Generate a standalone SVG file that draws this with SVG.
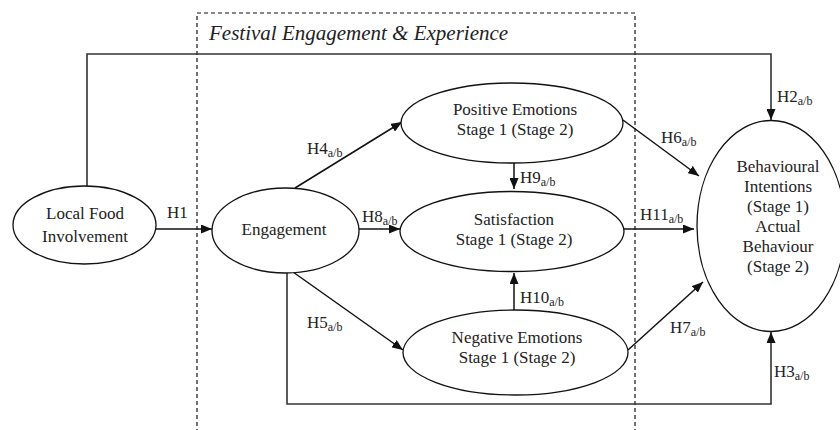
<svg xmlns="http://www.w3.org/2000/svg" width="840" height="430" viewBox="0 0 840 430">
<style>
text{font-family:'Liberation Serif','Times New Roman',Times,'DejaVu Serif',serif;fill:#222;}
.n{font-size:17px;text-anchor:middle;}
.l{font-size:17px;}
.s{font-size:12px;}
.t{font-size:21px;font-style:italic;}
ellipse{fill:#fff;stroke:#111;stroke-width:1.3;}
.c{fill:none;stroke:#111;stroke-width:1.5;}
.g{fill:none;stroke:#333;stroke-width:1.6;}
.box{fill:none;stroke:#111;stroke-width:1.2;stroke-dasharray:4 3;}
</style>
<defs>
<marker id="ah" markerWidth="11" markerHeight="9" refX="11" refY="4.5" orient="auto" markerUnits="userSpaceOnUse">
<path d="M0,0 L11,4.5 L0,9 Z" fill="#111"/>
</marker>
</defs>
<rect width="840" height="430" fill="#fff"/>
<g id="frame">
<path class="box" d="M197,440 V13 H635 V440"/>
<text class="t" x="209" y="39.5" font-family="Liberation Serif">Festival Engagement &amp; Experience</text>
</g>
<g id="connectors">
<path class="g" d="M87,186 V54 H771 V120" marker-end="url(#ah)"/>
<path class="g" d="M287,272 V404 H771 V332" marker-end="url(#ah)"/>
<path class="c" d="M156,229 H212" marker-end="url(#ah)"/>
<path class="c" d="M359,229 H400" marker-end="url(#ah)"/>
<path class="c" d="M295,188 L402,122" marker-end="url(#ah)"/>
<path class="c" d="M293,272 L403,350" marker-end="url(#ah)"/>
<path class="c" d="M623,120 L699,176" marker-end="url(#ah)"/>
<path class="c" d="M628,350 L703,282" marker-end="url(#ah)"/>
<path class="c" d="M624,229 H694" marker-end="url(#ah)"/>
<path class="c" d="M514,163 V189" marker-end="url(#ah)"/>
<path class="c" d="M514,310 V273" marker-end="url(#ah)"/>
<text class="l" x="167" y="218">H1</text>
<text class="l" x="777" y="102">H2<tspan class="s" dy="3">a/b</tspan></text>
<text class="l" x="774" y="377">H3<tspan class="s" dy="3">a/b</tspan></text>
<text class="l" x="307" y="154">H4<tspan class="s" dy="3">a/b</tspan></text>
<text class="l" x="307" y="328">H5<tspan class="s" dy="3">a/b</tspan></text>
<text class="l" x="661" y="143">H6<tspan class="s" dy="3">a/b</tspan></text>
<text class="l" x="670" y="333">H7<tspan class="s" dy="3">a/b</tspan></text>
<text class="l" x="362" y="222">H8<tspan class="s" dy="3">a/b</tspan></text>
<text class="l" x="520" y="183">H9<tspan class="s" dy="3">a/b</tspan></text>
<text class="l" x="520" y="303">H10<tspan class="s" dy="3">a/b</tspan></text>
<text class="l" x="640" y="220">H11<tspan class="s" dy="3">a/b</tspan></text>
</g>
<g id="lfi">
<ellipse cx="84.5" cy="225" rx="71.5" ry="39"/>
<text class="n" x="85" y="218.5">Local Food</text>
<text class="n" x="85" y="241.5">Involvement</text>
</g>
<g id="engagement">
<ellipse cx="285.5" cy="230.5" rx="73.5" ry="42.5"/>
<text class="n" x="284" y="235">Engagement</text>
</g>
<g id="positive">
<ellipse cx="512" cy="123" rx="111" ry="40"/>
<text class="n" x="515" y="115">Positive Emotions</text>
<text class="n" x="515" y="135">Stage 1 (Stage 2)</text>
</g>
<g id="satisfaction">
<ellipse cx="512" cy="231.5" rx="112" ry="40"/>
<text class="n" x="514" y="225">Satisfaction</text>
<text class="n" x="514" y="245">Stage 1 (Stage 2)</text>
</g>
<g id="negative">
<ellipse cx="515.5" cy="352.5" rx="112.5" ry="42.5"/>
<text class="n" x="517" y="343">Negative Emotions</text>
<text class="n" x="517" y="363">Stage 1 (Stage 2)</text>
</g>
<g id="behaviour">
<ellipse cx="771" cy="226" rx="74" ry="105.5"/>
<text class="n" x="778" y="172">Behavioural</text>
<text class="n" x="778" y="192">Intentions</text>
<text class="n" x="778" y="212">(Stage 1)</text>
<text class="n" x="778" y="232">Actual</text>
<text class="n" x="778" y="252">Behaviour</text>
<text class="n" x="778" y="272">(Stage 2)</text>
</g>
</svg>
